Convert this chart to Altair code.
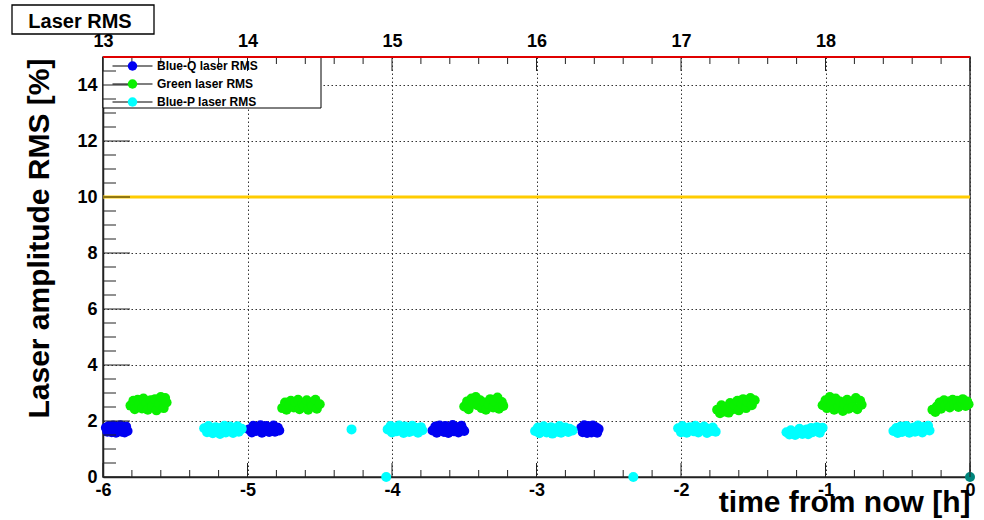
import altair as alt
import numpy as np
import pandas as pd

F = "Liberation Sans"

series_names = ["Blue-Q laser RMS", "Green laser RMS", "Blue-P laser RMS"]
series_colors = ["#0000f2", "#0af000", "#00ffff"]
latest_color = "#00857c"

# Blue-Q laser RMS  (time from now [h], RMS [%])
blueq_t = [-5.98, -5.97, -5.96, -5.95, -5.94, -5.93, -5.92, -5.91, -5.90, -5.89, -5.88, -5.87, -5.86, -5.85, -5.84, -5.83,
           -4.99, -4.97, -4.96, -4.94, -4.93, -4.91, -4.90, -4.88, -4.87, -4.85, -4.84, -4.82, -4.81, -4.79, -4.78,
           -3.72, -3.70, -3.69, -3.67, -3.66, -3.64, -3.63, -3.61, -3.60, -3.58, -3.57, -3.55, -3.54, -3.52, -3.51, -3.50,
           -2.69, -2.68, -2.67, -2.66, -2.65, -2.64, -2.63, -2.62, -2.61, -2.60, -2.59, -2.58, -2.57]
blueq_rms = [1.76, 1.62, 1.82, 1.70, 1.60, 1.84, 1.72, 1.58, 1.78, 1.66, 1.85, 1.62, 1.74, 1.59, 1.80, 1.64,
             1.70, 1.59, 1.83, 1.64, 1.77, 1.85, 1.58, 1.72, 1.82, 1.61, 1.69, 1.84, 1.62, 1.76, 1.66,
             1.66, 1.80, 1.58, 1.84, 1.71, 1.61, 1.82, 1.57, 1.75, 1.86, 1.63, 1.78, 1.59, 1.83, 1.70, 1.64,
             1.76, 1.60, 1.85, 1.68, 1.57, 1.82, 1.72, 1.59, 1.84, 1.65, 1.78, 1.58, 1.71]

# Green laser RMS
green_t = [-5.81, -5.79, -5.78, -5.76, -5.75, -5.73, -5.72, -5.70, -5.69, -5.67, -5.66, -5.64, -5.63, -5.61, -5.60, -5.58, -5.57, -5.56,
           -4.76, -4.74, -4.73, -4.71, -4.70, -4.68, -4.67, -4.65, -4.64, -4.62, -4.61, -4.59, -4.58, -4.56, -4.55, -4.53, -4.52, -4.50,
           -3.50, -3.48, -3.47, -3.45, -3.44, -3.42, -3.41, -3.39, -3.38, -3.36, -3.35, -3.33, -3.32, -3.30, -3.29, -3.27, -3.26, -3.24, -3.23,
           -1.75, -1.73, -1.72, -1.70, -1.69, -1.67, -1.66, -1.64, -1.63, -1.61, -1.60, -1.58, -1.57, -1.55, -1.54, -1.52, -1.51, -1.49,
           -1.02, -1.00, -0.99, -0.97, -0.96, -0.94, -0.93, -0.91, -0.90, -0.88, -0.87, -0.85, -0.84, -0.82, -0.81, -0.79, -0.78, -0.76, -0.75,
           -0.26, -0.24, -0.23, -0.21, -0.20, -0.18, -0.17, -0.15, -0.14, -0.12, -0.11, -0.09, -0.08, -0.06, -0.05, -0.03, -0.02, -0.01]
green_rms = [2.55, 2.72, 2.42, 2.76, 2.60, 2.45, 2.80, 2.63, 2.40, 2.74, 2.52, 2.78, 2.38, 2.62, 2.86, 2.46, 2.82, 2.66,
             2.46, 2.66, 2.40, 2.58, 2.72, 2.48, 2.68, 2.76, 2.42, 2.62, 2.52, 2.74, 2.40, 2.66, 2.54, 2.76, 2.44, 2.60,
             2.52, 2.70, 2.42, 2.80, 2.62, 2.86, 2.56, 2.74, 2.46, 2.66, 2.40, 2.60, 2.78, 2.48, 2.70, 2.84, 2.44, 2.68, 2.54,
             2.40, 2.28, 2.56, 2.34, 2.50, 2.30, 2.64, 2.42, 2.56, 2.72, 2.38, 2.62, 2.78, 2.46, 2.68, 2.82, 2.56, 2.74,
             2.56, 2.74, 2.46, 2.86, 2.62, 2.40, 2.80, 2.52, 2.70, 2.36, 2.60, 2.76, 2.44, 2.66, 2.50, 2.82, 2.42, 2.72, 2.58,
             2.40, 2.32, 2.52, 2.66, 2.44, 2.74, 2.56, 2.70, 2.48, 2.76, 2.58, 2.72, 2.50, 2.68, 2.78, 2.54, 2.70, 2.60]

# Blue-P laser RMS
bluep_t = [-5.30, -5.28, -5.27, -5.25, -5.24, -5.22, -5.21, -5.19, -5.18, -5.16, -5.15, -5.13, -5.12, -5.10, -5.09, -5.07, -5.06, -5.04,
           -4.28, -4.04,
           -4.03, -4.01, -4.00, -3.98, -3.97, -3.95, -3.94, -3.92, -3.91, -3.89, -3.88, -3.86, -3.85, -3.83, -3.82, -3.80, -3.79,
           -3.01, -2.99, -2.98, -2.96, -2.95, -2.93, -2.92, -2.90, -2.89, -2.87, -2.86, -2.84, -2.83, -2.81, -2.80, -2.78, -2.77, -2.75,
           -2.33,
           -2.02, -2.00, -1.99, -1.97, -1.96, -1.94, -1.93, -1.91, -1.90, -1.88, -1.87, -1.85, -1.84, -1.82, -1.81, -1.79, -1.78, -1.76,
           -1.27, -1.25, -1.24, -1.22, -1.21, -1.19, -1.18, -1.16, -1.15, -1.13, -1.12, -1.10, -1.09, -1.07, -1.06, -1.04, -1.03, -1.02,
           -0.53, -0.51, -0.50, -0.48, -0.47, -0.45, -0.44, -0.42, -0.41, -0.39, -0.38, -0.36, -0.35, -0.33, -0.32, -0.30, -0.29, -0.28]
bluep_rms = [1.74, 1.60, 1.82, 1.66, 1.56, 1.78, 1.64, 1.54, 1.76, 1.83, 1.59, 1.70, 1.80, 1.57, 1.68, 1.81, 1.62, 1.72,
             1.70, 0.0,
             1.70, 1.82, 1.59, 1.76, 1.63, 1.84, 1.68, 1.57, 1.80, 1.73, 1.61, 1.83, 1.65, 1.75, 1.58, 1.78, 1.67,
             1.64, 1.77, 1.56, 1.70, 1.81, 1.59, 1.67, 1.78, 1.55, 1.73, 1.62, 1.82, 1.58, 1.69, 1.77, 1.61, 1.72, 1.66,
             0.0,
             1.74, 1.60, 1.82, 1.67, 1.58, 1.78, 1.70, 1.63, 1.83, 1.59, 1.75, 1.68, 1.80, 1.57, 1.72, 1.64, 1.77, 1.62,
             1.60, 1.52, 1.67, 1.57, 1.50, 1.65, 1.72, 1.54, 1.63, 1.70, 1.53, 1.75, 1.60, 1.67, 1.78, 1.58, 1.71, 1.76,
             1.64, 1.75, 1.57, 1.80, 1.61, 1.70, 1.82, 1.58, 1.67, 1.77, 1.62, 1.84, 1.68, 1.59, 1.79, 1.72, 1.83, 1.66]

latest_t = [0.0]
latest_rms = [0.0]

limit_level = [10.0]
top_level = [15.0]

x_label_values = [-6, -5, -4, -3, -2, -1, 0]
hour_label_values = [-6, -5, -4, -3, -2, -1]
hour_labels = ["13", "14", "15", "16", "17", "18"]
y_label_values = [0, 2, 4, 6, 8, 10, 12, 14]
x_major_ticks = [-6, -5, -4, -3, -2, -1, 0]
x_minor_ticks = [round(v, 1) for v in np.arange(-6.0, 0.01, 0.2) if abs(v - round(v)) > 0.01]
y_major_ticks = [0, 2, 4, 6, 8, 10, 12, 14]
y_minor_ticks = [float(v) for v in np.arange(0.0, 15.01, 0.5) if abs(v / 2 - round(v / 2)) > 0.01]

# ---------------------------------------------------------------- data tables
frames = []
for name, ts, vs in [(series_names[0], blueq_t, blueq_rms),
                     (series_names[1], green_t, green_rms),
                     (series_names[2], bluep_t, bluep_rms)]:
    frames.append(pd.DataFrame({"t": ts, "rms": vs, "series": name}))
df = pd.concat(frames, ignore_index=True)
df["series2"] = df["series"]

latest_df = pd.DataFrame({"t": latest_t, "rms": latest_rms})
limit_df = pd.DataFrame({"level": limit_level})
top_df = pd.DataFrame({"t0": [x_label_values[0]], "t1": [x_label_values[-1]], "level": top_level})
one_df = pd.DataFrame({"k": [0]})
xmaj_df = pd.DataFrame({"t": x_major_ticks})
xmin_df = pd.DataFrame({"t": x_minor_ticks})
ymaj_df = pd.DataFrame({"v": y_major_ticks})
ymin_df = pd.DataFrame({"v": y_minor_ticks})

W, H = 867, 420
xs = alt.Scale(domain=[-6, 0], nice=False, zero=False)
ys = alt.Scale(domain=[0, 15], nice=False, zero=False)

lab = dict(labelFont=F, labelFontSize=18, labelFontWeight="bold", labelColor="black",
           labelFlush=False, labelOverlap=False)

axis_bottom = alt.Axis(orient="bottom", values=x_label_values, labelExpr="'' + datum.value",
                       labelPadding=4, ticks=False, domain=True, domainColor="#222", domainWidth=1.5,
                       grid=True, gridColor="#333", gridDash=[1.5, 2.5], gridWidth=1,
                       title="time from now [h]", titleFont=F, titleFontSize=30, titleFontWeight="bold",
                       titleColor="black", titleAlign="right", titleBaseline="alphabetic",
                       titleX=867, titleY=34, **lab)
hour_expr = "[" + ",".join("'%s'" % h for h in hour_labels) + "][round(datum.value + 6)]"
axis_top = alt.Axis(orient="top", values=hour_label_values, labelExpr=hour_expr, labelPadding=7,
                    ticks=False, domain=False, grid=False, title=None, **lab)
axis_left = alt.Axis(orient="left", values=y_label_values, labelPadding=6, ticks=False, domain=True,
                     domainColor="#222", domainWidth=1.5, grid=True, gridColor="#333",
                     gridDash=[1.5, 2.5], gridWidth=1,
                     title="Laser amplitude RMS [%]", titleFont=F, titleFontSize=30, titleFontWeight="bold",
                     titleColor="black", titleAngle=270, titleAlign="right", titleBaseline="alphabetic",
                     titleX=-55, titleY=1, **lab)

# inward tick marks, placed through the shared scales
TICK = "#222"


def xticks(data, y0, y1):
    return alt.Chart(data).mark_rule(color=TICK, strokeWidth=1).encode(
        x=alt.X("t:Q", scale=xs, axis=None), y=alt.value(y0), y2=alt.value(y1))


def yticks(data, x1):
    return alt.Chart(data).mark_rule(color=TICK, strokeWidth=1).encode(
        y=alt.Y("v:Q", scale=ys, axis=None), x=alt.value(0), x2=alt.value(x1))


tick_layers = [
    xticks(xmaj_df, H, H - 14), xticks(xmin_df, H, H - 7),
    xticks(xmaj_df, 0, 14), xticks(xmin_df, 0, 7),
    yticks(ymaj_df, 27), yticks(ymin_df, 13),
]

legend_common = dict(title=None, padding=3, rowPadding=6,
                     labelFont=F, labelFontSize=12, labelFontWeight="bold", labelColor="black",
                     symbolOffset=20.5, labelOffset=18.5)

# legend box (decoration)
legend_box = alt.Chart(one_df).mark_rect(fill="white", stroke="black", strokeWidth=1).encode(
    x=alt.value(0), x2=alt.value(218), y=alt.value(0), y2=alt.value(51))

points = alt.Chart(df).mark_circle(size=100, opacity=1).encode(
    x=alt.X("t:Q", scale=xs, axis=axis_bottom),
    y=alt.Y("rms:Q", scale=ys, axis=axis_left),
    color=alt.Color("series:N", scale=alt.Scale(domain=series_names, range=series_colors),
                    legend=alt.Legend(orient="none", legendX=0, legendY=0,
                                      symbolType="circle", symbolSize=90, symbolStrokeWidth=0,
                                      symbolOpacity=1, labelOpacity=0, zindex=2, **legend_common)),
)

legend_lines = alt.Chart(df).transform_filter("false").mark_point(
    color="black", filled=False, strokeWidth=1, opacity=1).encode(
    shape=alt.Shape("series2:N", scale=alt.Scale(domain=series_names,
                                                 range=["M-4,0H-0.9M0.9,0H4"] * 3),
                    legend=alt.Legend(orient="top-left", offset=0,
                                      symbolSize=100, symbolStrokeColor="black", symbolStrokeWidth=1.2,
                                      symbolFillColor="transparent", symbolOpacity=1, zindex=1,
                                      **legend_common)),
)

limit_line = alt.Chart(limit_df).mark_rule(color="#ffcc00", strokeWidth=3).encode(
    y=alt.Y("level:Q", scale=ys, axis=None))

top_line = alt.Chart(top_df).mark_rule(color="#e00000", strokeWidth=2).encode(
    x=alt.X("t0:Q", scale=xs, axis=None), x2="t1:Q",
    y=alt.Y("level:Q", scale=ys, axis=None))

latest = alt.Chart(latest_df).mark_circle(size=100, opacity=1, color=latest_color).encode(
    x=alt.X("t:Q", scale=xs, axis=axis_top),
    y=alt.Y("rms:Q", scale=ys, axis=None))

title_box = alt.Chart(one_df).mark_rect(fill="white", stroke="black", strokeWidth=1.3).encode(
    x=alt.value(-91), x2=alt.value(51), y=alt.value(-52), y2=alt.value(-23))
title_text = alt.Chart(one_df).mark_text(text="Laser RMS", font=F, fontSize=20, fontWeight="bold",
                                         color="black", align="center", baseline="alphabetic").encode(
    x=alt.value(-23), y=alt.value(-29))

chart = alt.layer(
    limit_line, points, latest, legend_box, *tick_layers, legend_lines, top_line,
    title_box, title_text,
).resolve_axis(x="independent", y="independent").resolve_scale(x="shared", y="shared").properties(
    width=W, height=H,
    autosize=alt.AutoSizeParams(type="none"),
    padding={"left": 103, "top": 57, "right": 14, "bottom": 43},
    background="white",
).configure_view(stroke="#333", strokeWidth=1.5)

chart.save("out.html", embed_options={"renderer": "svg", "actions": False})
